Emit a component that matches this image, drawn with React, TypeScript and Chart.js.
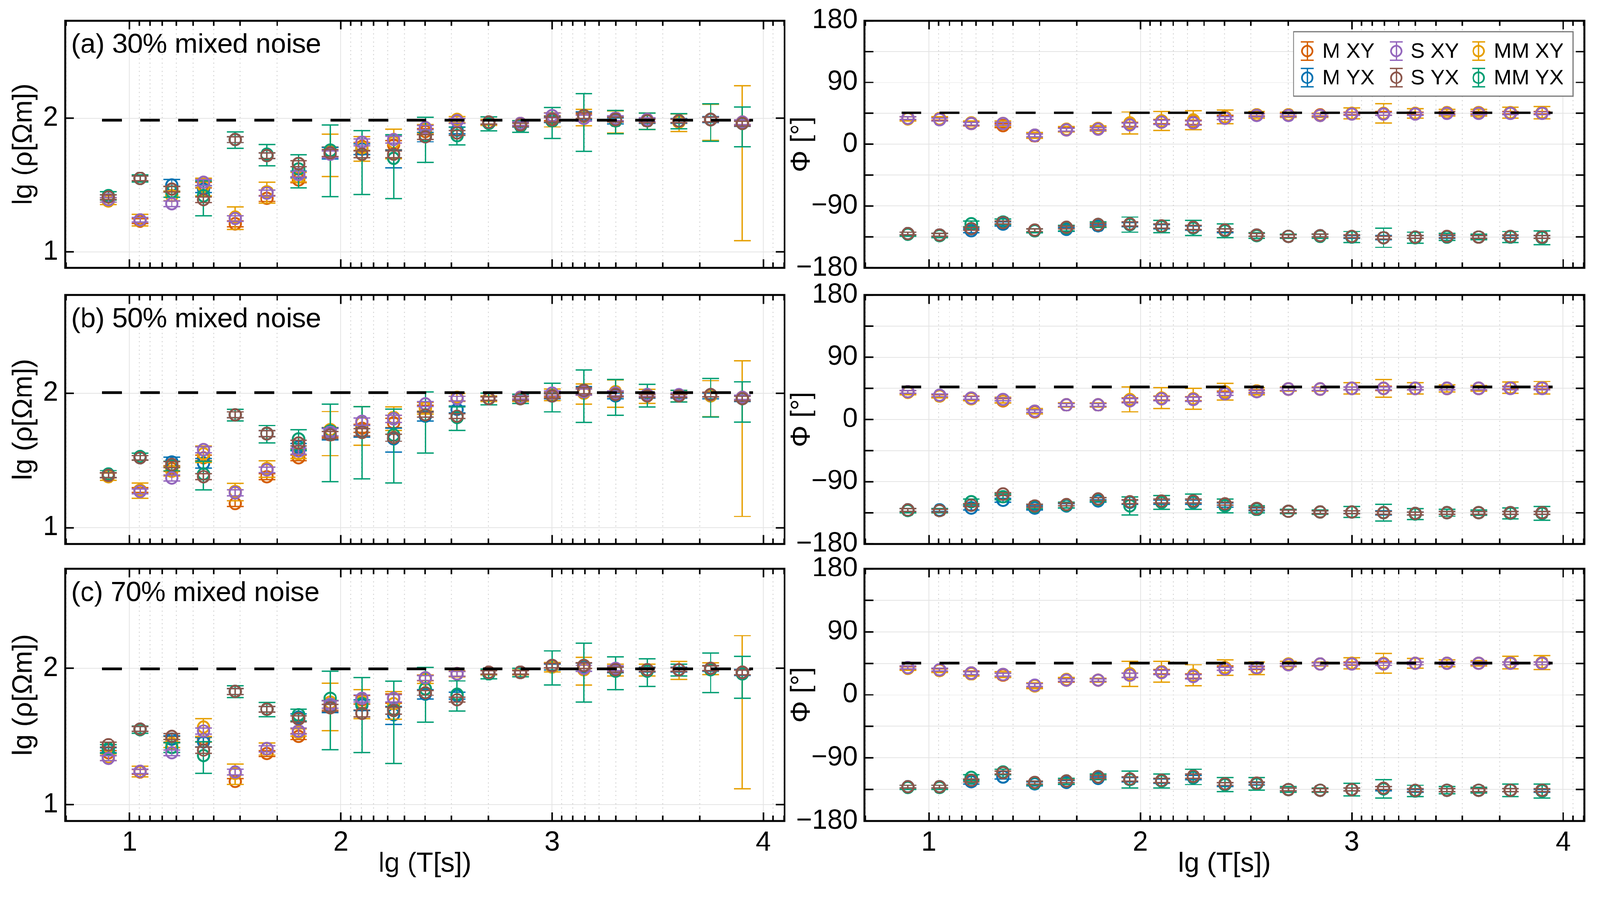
import React, { useEffect, useRef } from "react";
import Chart from "chart.js/auto";

// lg(T) of the 21 sounding periods
const periods = [0.9, 1.05, 1.2, 1.35, 1.5, 1.65, 1.8, 1.95, 2.1, 2.25, 2.4, 2.55, 2.7, 2.85, 3.0, 3.15, 3.3, 3.45, 3.6, 3.75, 3.9];

// series order in every table below: M XY, M YX, S XY, S YX, MM XY, MM YX
const seriesNames = ["M XY", "M YX", "S XY", "S YX", "MM XY", "MM YX"];
const seriesColors = ["#D55E00", "#0072B2", "#9467BD", "#8C564B", "#E69F00", "#009E73"];
const seriesOrder = [5, 4, 1, 0, 3, 2]; // lower = drawn on top

const panelTitles = ["(a) 30% mixed noise", "(b) 50% mixed noise", "(c) 70% mixed noise"];
const refRho = [1.985, 2.005, 1.995];
const refPhi = [45.8, 47, 45.5];
const refX = [0.87, 3.95];

const xTicks = [1, 2, 3, 4];
const rhoTicks = [1, 2];
const phiTicks = [-180, -135, -90, -45, 0, 45, 90, 135, 180];

// small error arrays (relative error of rho, degrees for phase)
const mRhoErr = [0.04, 0.04, 0.05, 0.05, 0.05, 0.05, 0.05, 0.08, 0.07, 0.08, 0.05, 0.04, 0.03, 0.03, 0.04, 0.05, 0.04, 0.03, 0.03, 0.04, 0.04];
const sRhoErr = [0.04, 0.04, 0.05, 0.05, 0.05, 0.05, 0.05, 0.06, 0.06, 0.06, 0.04, 0.04, 0.03, 0.03, 0.04, 0.05, 0.04, 0.03, 0.03, 0.04, 0.04];
const mPhiErr = [2, 2, 3, 3, 3, 3, 2, 3, 3, 3, 3, 2, 2, 2, 2, 3, 2, 2, 2, 2, 2];
const sPhiErr = [2, 2, 2, 2, 2, 2, 2, 3, 3, 3, 2, 2, 2, 2, 2, 2, 2, 2, 2, 2, 2];

// ---- (a) 30% ----
const rhoA = [
  [1.39, 1.23, 1.47, 1.50, 1.21, 1.40, 1.54, 1.75, 1.79, 1.80, 1.90, 1.98, 1.97, 1.96, 2.00, 2.01, 1.99, 1.98, 1.98, 1.99, 1.97],
  [1.41, 1.55, 1.50, 1.47, 1.84, 1.72, 1.58, 1.74, 1.77, 1.70, 1.86, 1.91, 1.97, 1.95, 1.99, 2.02, 1.98, 1.98, 1.98, 1.99, 1.96],
  [1.39, 1.24, 1.36, 1.52, 1.25, 1.44, 1.58, 1.73, 1.82, 1.84, 1.93, 1.98, 1.97, 1.96, 2.02, 2.00, 2.00, 1.99, 1.98, 1.99, 1.97],
  [1.41, 1.55, 1.47, 1.39, 1.84, 1.72, 1.66, 1.74, 1.73, 1.73, 1.86, 1.89, 1.97, 1.95, 1.99, 2.02, 1.99, 1.98, 1.98, 1.99, 1.96],
  [1.38, 1.24, 1.42, 1.49, 1.26, 1.45, 1.56, 1.75, 1.78, 1.82, 1.92, 1.99, 1.97, 1.96, 1.99, 2.01, 1.98, 1.98, 1.97, 1.99, 1.97],
  [1.42, 1.55, 1.45, 1.42, 1.84, 1.73, 1.62, 1.76, 1.73, 1.70, 1.87, 1.87, 1.96, 1.94, 1.98, 2.02, 1.98, 1.98, 1.98, 1.99, 1.96],
];
const rhoErrA = [
  mRhoErr,
  [0.04, 0.04, 0.10, 0.06, 0.05, 0.05, 0.06, 0.10, 0.09, 0.15, 0.08, 0.06, 0.04, 0.04, 0.05, 0.07, 0.05, 0.04, 0.04, 0.05, 0.05],
  sRhoErr,
  sRhoErr,
  [0.06, 0.10, 0.08, 0.15, 0.19, 0.18, 0.08, 0.35, 0.21, 0.25, 0.08, 0.05, 0.05, 0.05, 0.12, 0.14, 0.19, 0.14, 0.15, 0.30, 0.87],
  [0.07, 0.06, 0.09, 0.29, 0.14, 0.18, 0.28, 0.55, 0.50, 0.50, 0.37, 0.15, 0.12, 0.10, 0.26, 0.46, 0.20, 0.14, 0.13, 0.31, 0.33],
];
const phiA = [
  [38, 37, 30, 27, 12, 21, 23, 29, 33, 32, 39, 43, 43, 43, 45, 45, 45, 46, 46, 46, 46],
  [-130, -132, -126, -116, -126, -124, -119, -117, -120, -122, -126, -132, -134, -133, -135, -136, -135, -135, -135, -135, -135],
  [38, 36, 30, 30, 13, 21, 22, 28, 32, 31, 38, 42, 42, 42, 44, 44, 44, 45, 45, 45, 45],
  [-130, -132, -123, -114, -125, -121, -117, -116, -119, -121, -125, -132, -134, -133, -134, -136, -135, -134, -135, -134, -135],
  [37, 37, 31, 30, 13, 22, 23, 31, 34, 35, 40, 43, 43, 42, 45, 45, 45, 46, 46, 46, 46],
  [-131, -133, -116, -113, -126, -122, -117, -117, -120, -122, -126, -133, -134, -134, -135, -136, -136, -135, -135, -135, -136],
];
const phiErrA = [
  mPhiErr,
  mPhiErr,
  sPhiErr,
  sPhiErr,
  [3, 3, 3, 4, 4, 4, 4, 16, 14, 14, 10, 5, 4, 3, 8, 14, 7, 5, 5, 8, 9],
  [3, 3, 4, 4, 3, 4, 4, 11, 9, 11, 10, 4, 3, 3, 8, 14, 8, 5, 4, 8, 10],
];

// ---- (b) 50% ----
const rhoB = [
  [1.39, 1.28, 1.44, 1.52, 1.18, 1.38, 1.52, 1.71, 1.74, 1.78, 1.89, 1.96, 1.96, 1.97, 1.99, 2.01, 1.99, 1.99, 1.98, 1.99, 1.97],
  [1.39, 1.52, 1.49, 1.48, 1.84, 1.70, 1.60, 1.70, 1.72, 1.66, 1.83, 1.88, 1.96, 1.96, 1.98, 2.02, 1.98, 1.98, 1.98, 1.98, 1.96],
  [1.39, 1.27, 1.37, 1.58, 1.26, 1.43, 1.57, 1.71, 1.79, 1.81, 1.92, 1.96, 1.96, 1.97, 2.00, 2.01, 2.00, 1.99, 1.99, 1.99, 1.97],
  [1.39, 1.52, 1.47, 1.38, 1.84, 1.70, 1.63, 1.69, 1.71, 1.67, 1.84, 1.83, 1.96, 1.96, 1.98, 2.02, 1.99, 1.98, 1.98, 1.99, 1.96],
  [1.38, 1.28, 1.42, 1.55, 1.27, 1.44, 1.55, 1.73, 1.78, 1.82, 1.89, 1.97, 1.96, 1.96, 1.99, 2.00, 2.01, 1.98, 1.98, 1.98, 1.97],
  [1.40, 1.53, 1.46, 1.40, 1.84, 1.70, 1.66, 1.72, 1.71, 1.69, 1.84, 1.82, 1.96, 1.96, 1.98, 2.02, 1.99, 1.99, 1.98, 1.99, 1.96],
];
const rhoErrB = [
  mRhoErr,
  [0.04, 0.04, 0.08, 0.08, 0.05, 0.05, 0.06, 0.10, 0.10, 0.20, 0.08, 0.06, 0.04, 0.04, 0.05, 0.07, 0.05, 0.04, 0.04, 0.05, 0.05],
  sRhoErr,
  sRhoErr,
  [0.06, 0.13, 0.08, 0.14, 0.15, 0.14, 0.08, 0.36, 0.32, 0.20, 0.10, 0.07, 0.05, 0.05, 0.10, 0.17, 0.23, 0.12, 0.10, 0.30, 0.87],
  [0.06, 0.06, 0.08, 0.24, 0.10, 0.15, 0.17, 0.58, 0.55, 0.56, 0.48, 0.20, 0.10, 0.08, 0.24, 0.42, 0.30, 0.19, 0.10, 0.32, 0.33],
];
const phiB = [
  [40, 34, 31, 27, 11, 21, 21, 28, 31, 30, 38, 41, 44, 44, 45, 45, 45, 45, 45, 46, 46],
  [-131, -131, -128, -117, -128, -125, -118, -120, -120, -120, -124, -130, -133, -134, -134, -135, -136, -135, -135, -135, -135],
  [40, 35, 31, 29, 12, 21, 21, 27, 30, 29, 37, 40, 44, 44, 45, 45, 45, 45, 45, 45, 45],
  [-131, -132, -124, -108, -125, -123, -115, -119, -118, -118, -122, -129, -133, -134, -134, -135, -136, -135, -135, -135, -135],
  [39, 34, 30, 28, 12, 21, 21, 29, 31, 30, 40, 41, 44, 44, 45, 45, 45, 45, 45, 46, 46],
  [-132, -132, -119, -112, -126, -124, -116, -125, -120, -119, -125, -130, -133, -134, -134, -135, -137, -135, -135, -136, -136],
];
const phiErrB = [
  mPhiErr,
  mPhiErr,
  sPhiErr,
  sPhiErr,
  [3, 3, 3, 4, 4, 3, 3, 18, 15, 15, 12, 5, 3, 3, 8, 13, 8, 5, 4, 8, 9],
  [3, 3, 4, 4, 3, 4, 3, 13, 10, 11, 10, 5, 3, 3, 8, 12, 8, 5, 4, 8, 10],
];

// ---- (c) 70% ----
const rhoC = [
  [1.38, 1.24, 1.48, 1.48, 1.17, 1.375, 1.50, 1.73, 1.77, 1.78, 1.93, 1.96, 1.97, 1.97, 2.02, 2.02, 1.99, 1.99, 1.99, 2.00, 1.97],
  [1.40, 1.555, 1.48, 1.46, 1.83, 1.70, 1.64, 1.72, 1.73, 1.66, 1.81, 1.80, 1.97, 1.97, 2.01, 2.01, 1.99, 1.99, 1.99, 2.00, 1.97],
  [1.34, 1.245, 1.38, 1.54, 1.24, 1.41, 1.54, 1.735, 1.78, 1.78, 1.93, 1.96, 1.97, 1.97, 2.02, 2.00, 2.00, 1.99, 1.99, 2.00, 1.97],
  [1.44, 1.555, 1.50, 1.40, 1.83, 1.70, 1.63, 1.71, 1.67, 1.69, 1.82, 1.77, 1.97, 1.97, 2.02, 2.02, 1.99, 1.99, 1.99, 2.00, 1.97],
  [1.35, 1.245, 1.45, 1.57, 1.23, 1.41, 1.53, 1.75, 1.75, 1.74, 1.92, 1.96, 1.97, 1.97, 2.01, 1.99, 1.99, 1.99, 1.99, 2.00, 1.97],
  [1.41, 1.55, 1.42, 1.36, 1.83, 1.70, 1.66, 1.78, 1.74, 1.70, 1.85, 1.81, 1.96, 1.97, 2.02, 2.02, 1.98, 1.98, 1.99, 1.99, 1.96],
];
const rhoErrC = [
  mRhoErr,
  [0.04, 0.04, 0.06, 0.08, 0.05, 0.05, 0.06, 0.10, 0.09, 0.15, 0.08, 0.06, 0.04, 0.04, 0.05, 0.07, 0.05, 0.04, 0.04, 0.05, 0.05],
  sRhoErr,
  sRhoErr,
  [0.06, 0.09, 0.07, 0.15, 0.17, 0.10, 0.06, 0.38, 0.24, 0.23, 0.07, 0.05, 0.04, 0.04, 0.08, 0.23, 0.10, 0.10, 0.15, 0.10, 0.86],
  [0.07, 0.06, 0.08, 0.26, 0.10, 0.12, 0.10, 0.58, 0.56, 0.60, 0.43, 0.25, 0.08, 0.07, 0.28, 0.46, 0.27, 0.23, 0.10, 0.32, 0.34],
];
const phiC = [
  [38, 35, 31, 28, 13, 21, 21, 28, 33, 27, 38, 38, 43, 44, 45, 45, 45, 45, 45, 45, 45],
  [-131, -131, -124, -117, -127, -125, -119, -121, -123, -118, -128, -127, -135, -136, -135, -134, -137, -136, -136, -136, -137],
  [39, 36, 31, 29, 14, 21, 21, 28, 32, 26, 37, 39, 43, 44, 44, 44, 45, 45, 45, 45, 45],
  [-131, -131, -122, -111, -125, -123, -117, -120, -122, -116, -127, -126, -135, -136, -135, -133, -136, -136, -136, -136, -136],
  [38, 35, 30, 29, 13, 22, 21, 30, 33, 28, 39, 38, 44, 44, 45, 45, 45, 45, 45, 46, 46],
  [-132, -132, -118, -110, -126, -123, -117, -121, -123, -117, -128, -127, -135, -136, -135, -134, -137, -136, -136, -136, -137],
];
const phiErrC = [
  mPhiErr,
  mPhiErr,
  sPhiErr,
  sPhiErr,
  [3, 3, 3, 4, 4, 3, 3, 18, 15, 15, 11, 9, 4, 3, 8, 14, 7, 5, 4, 9, 10],
  [3, 3, 4, 4, 3, 4, 4, 12, 10, 11, 10, 9, 4, 3, 9, 13, 8, 5, 4, 9, 10],
];

const panels = [
  { rho: rhoA, rhoErr: rhoErrA, phi: phiA, phiErr: phiErrA },
  { rho: rhoB, rhoErr: rhoErrB, phi: phiB, phiErr: phiErrB },
  { rho: rhoC, rhoErr: rhoErrC, phi: phiC, phiErr: phiErrC },
];

// ---- layout (pixels) ----
const FONT = "'Liberation Sans', Arial, Helvetica, sans-serif";
const PAGE_W = 4203;
const PAGE_H = 2335;
const rowTop = [43, 764, 1483];
const rowBottom = [715, 1440, 2157];
const X_MIN = 0.695;
const X_MAX = 4.1;
const PAD_TOP = 50; // larger than half a tick label, so Chart.js adds nothing
const PAD_RIGHT = 30;

function minorX(): number[] {
  const out: number[] = [];
  for (let m = 0; m <= 4; m++) {
    for (let k = 2; k <= 9; k++) {
      const v = m + 1 - Math.log10(k);
      if (v > X_MIN && v < X_MAX) out.push(v);
    }
  }
  return out;
}

function framePlugin(yTickVals: number[]) {
  return {
    id: "frameTicks",
    beforeDatasetsDraw(chart: any) {
      const { ctx, chartArea: a, scales } = chart;
      ctx.save();
      ctx.strokeStyle = "#cbcbcb";
      ctx.lineWidth = 2;
      ctx.setLineDash([3, 8]);
      for (const v of minorX()) {
        const px = scales.x.getPixelForValue(v);
        ctx.beginPath();
        ctx.moveTo(px, a.top);
        ctx.lineTo(px, a.bottom);
        ctx.stroke();
      }
      ctx.restore();
    },
    afterDraw(chart: any) {
      const { ctx, chartArea: a, scales } = chart;
      ctx.save();
      ctx.strokeStyle = "#000";
      ctx.lineWidth = 4;
      const vTick = (px: number, len: number) => {
        ctx.beginPath();
        ctx.moveTo(px, a.bottom);
        ctx.lineTo(px, a.bottom - len);
        ctx.moveTo(px, a.top);
        ctx.lineTo(px, a.top + len);
        ctx.stroke();
      };
      for (const v of xTicks) vTick(scales.x.getPixelForValue(v), 23);
      for (const v of minorX()) vTick(scales.x.getPixelForValue(v), 14);
      for (const v of yTickVals) {
        const py = scales.y.getPixelForValue(v);
        ctx.beginPath();
        ctx.moveTo(a.left, py);
        ctx.lineTo(a.left + 23, py);
        ctx.moveTo(a.right, py);
        ctx.lineTo(a.right - 23, py);
        ctx.stroke();
      }
      ctx.lineWidth = 5;
      ctx.strokeRect(a.left, a.top, a.right - a.left, a.bottom - a.top);
      ctx.restore();
    },
  };
}

const errorBarPlugin = {
  id: "errorBars",
  beforeDatasetDraw(chart: any, args: any) {
    const ds = chart.data.datasets[args.index];
    if (!ds.errLow) return;
    const { ctx, chartArea: a, scales } = chart;
    const cap = 22;
    ctx.save();
    ctx.beginPath();
    ctx.rect(a.left, a.top, a.right - a.left, a.bottom - a.top);
    ctx.clip();
    ctx.strokeStyle = ds.borderColor;
    ctx.lineWidth = 3.5;
    args.meta.data.forEach((pt: any, i: number) => {
      const x = pt.x;
      const y1 = scales.y.getPixelForValue(ds.errLow[i]);
      const y2 = scales.y.getPixelForValue(ds.errHigh[i]);
      ctx.beginPath();
      ctx.moveTo(x, y1);
      ctx.lineTo(x, y2);
      ctx.moveTo(x - cap, y1);
      ctx.lineTo(x + cap, y1);
      ctx.moveTo(x - cap, y2);
      ctx.lineTo(x + cap, y2);
      ctx.stroke();
    });
    ctx.restore();
  },
};

function titlePlugin(text: string) {
  return {
    id: "panelTitle",
    afterDraw(chart: any) {
      const { ctx, chartArea: a } = chart;
      ctx.save();
      ctx.font = `72px ${FONT}`;
      ctx.fillStyle = "#000";
      ctx.textBaseline = "alphabetic";
      ctx.textAlign = "left";
      ctx.fillText(text, a.left + 16, a.top + 85);
      ctx.restore();
    },
  };
}

const legendRows = [
  [0, 2, 4],
  [1, 3, 5],
];

const legendPlugin = {
  id: "boxLegend",
  afterDraw(chart: any) {
    const { ctx, chartArea: a } = chart;
    const w = 734;
    const h = 169;
    const left = a.right - 30 - w;
    const top = a.top + 29;
    ctx.save();
    ctx.fillStyle = "#fff";
    ctx.fillRect(left, top, w, h);
    ctx.strokeStyle = "#777";
    ctx.lineWidth = 3;
    ctx.strokeRect(left, top, w, h);
    const colSym = [36, 270, 486];
    const colText = [76, 307, 526];
    const rowY = [51, 121];
    ctx.font = `56px ${FONT}`;
    ctx.textBaseline = "middle";
    ctx.textAlign = "left";
    legendRows.forEach((row, r) => {
      row.forEach((s, c) => {
        const cx = left + colSym[c];
        const cy = top + rowY[r];
        ctx.strokeStyle = seriesColors[s];
        ctx.lineWidth = 3.5;
        ctx.beginPath();
        ctx.moveTo(cx, cy - 24);
        ctx.lineTo(cx, cy + 24);
        ctx.moveTo(cx - 17, cy - 24);
        ctx.lineTo(cx + 17, cy - 24);
        ctx.moveTo(cx - 17, cy + 24);
        ctx.lineTo(cx + 17, cy + 24);
        ctx.stroke();
        ctx.lineWidth = 4.5;
        ctx.beginPath();
        ctx.arc(cx, cy, 14, 0, Math.PI * 2);
        ctx.stroke();
        ctx.fillStyle = "#000";
        ctx.fillText(seriesNames[s], left + colText[c], cy + 2);
      });
    });
    ctx.restore();
  },
};

function phiLabel(v: number): string {
  if (v % 90 !== 0) return "";
  return v < 0 ? "\u2212" + Math.abs(v) : String(v);
}

function geometry(row: number, side: "rho" | "phi") {
  const xH = row === 2 ? 178 : 50;
  const canvasLeft = side === "rho" ? 0 : 2064;
  const yW = side === "rho" ? 171 : 207;
  const areaRight = side === "rho" ? 2061 : 4162;
  const width = areaRight - canvasLeft + PAD_RIGHT;
  const top = rowTop[row] - PAD_TOP;
  const height = rowBottom[row] - rowTop[row] + PAD_TOP + xH;
  return { xH, canvasLeft, yW, width, top, height };
}

function makeConfig(row: number, side: "rho" | "phi"): any {
  const g = geometry(row, side);
  const p = panels[row];
  const values = side === "rho" ? p.rho : p.phi;
  const errs = side === "rho" ? p.rhoErr : p.phiErr;
  const datasets: any[] = seriesNames.map((name, s) => {
    const v = values[s];
    const e = errs[s];
    const errLow = v.map((y, i) => (side === "rho" ? y + Math.log10(1 - e[i]) : y - e[i]));
    const errHigh = v.map((y, i) => (side === "rho" ? y + Math.log10(1 + e[i]) : y + e[i]));
    return {
      type: "scatter",
      label: name,
      data: periods.map((x, i) => ({ x, y: v[i] })),
      errLow,
      errHigh,
      borderColor: seriesColors[s],
      backgroundColor: "rgba(0,0,0,0)",
      pointStyle: "circle",
      pointRadius: 15,
      pointBorderWidth: 5,
      borderWidth: 5,
      order: seriesOrder[s],
    };
  });
  const ref = side === "rho" ? refRho[row] : refPhi[row];
  datasets.push({
    type: "line",
    label: "reference",
    data: refX.map((x) => ({ x, y: ref })),
    borderColor: "#000",
    borderWidth: 7,
    borderDash: [52, 48],
    pointRadius: 0,
    showLine: true,
    fill: false,
    order: -1,
  });

  const showX = row === 2;
  const tickFont = { family: FONT, size: 72 };
  const plugins: any[] = [framePlugin(side === "rho" ? rhoTicks : phiTicks), errorBarPlugin];
  if (side === "rho") plugins.push(titlePlugin(panelTitles[row]));
  if (side === "phi" && row === 0) plugins.push(legendPlugin);

  return {
    type: "scatter",
    data: { datasets },
    plugins,
    options: {
      animation: false,
      responsive: false,
      devicePixelRatio: 1,
      layout: { padding: { left: 0, right: PAD_RIGHT, top: PAD_TOP, bottom: 0 } },
      plugins: { legend: { display: false }, tooltip: { enabled: false }, title: { display: false } },
      scales: {
        x: {
          type: "linear",
          min: X_MIN,
          max: X_MAX,
          afterBuildTicks: (s: any) => {
            s.ticks = xTicks.map((value) => ({ value }));
          },
          afterFit: (s: any) => {
            s.height = g.xH;
          },
          grid: { color: "#e4e4e4", lineWidth: 2, drawTicks: false },
          border: { display: false },
          ticks: {
            display: showX,
            font: tickFont,
            color: "#000",
            padding: 15,
            maxRotation: 0,
            autoSkip: false,
            callback: (v: any) => String(v),
          },
          title: {
            display: showX,
            text: "lg (T[s])",
            font: tickFont,
            color: "#000",
            padding: { top: 0, bottom: 22 },
          },
        },
        y: {
          type: "linear",
          min: side === "rho" ? 0.88 : -180,
          max: side === "rho" ? 2.73 : 180,
          afterBuildTicks: (s: any) => {
            s.ticks = (side === "rho" ? rhoTicks : phiTicks).map((value) => ({ value }));
          },
          afterFit: (s: any) => {
            s.width = g.yW;
          },
          grid: { color: "#e4e4e4", lineWidth: 2, drawTicks: false },
          border: { display: false },
          ticks: {
            font: tickFont,
            color: "#000",
            padding: 18,
            autoSkip: false,
            callback: (v: any) => (side === "rho" ? String(v) : phiLabel(v)),
          },
          title: {
            display: true,
            text: side === "rho" ? "lg (\u03c1[\u03a9m])" : "\u03a6 [\u00b0]",
            font: tickFont,
            color: "#000",
            padding: { top: side === "rho" ? 20 : 0, bottom: 0 },
          },
        },
      },
    },
  };
}

function PanelChart({ row, side }: { row: number; side: "rho" | "phi" }) {
  const ref = useRef<HTMLCanvasElement>(null);
  const g = geometry(row, side);

  useEffect(() => {
    if (!ref.current) return;
    const chart = new Chart(ref.current, makeConfig(row, side));
    return () => chart.destroy();
  }, [row, side]);

  return (
    <canvas
      ref={ref}
      width={g.width}
      height={g.height}
      style={{ position: "absolute", left: g.canvasLeft, top: g.top, width: g.width, height: g.height }}
    />
  );
}

export default function App() {
  // the page may get a narrower viewport than the figure: shrink it uniformly to fit the width
  const scale = window.innerWidth / PAGE_W;
  return (
    <div
      style={{
        position: "absolute",
        left: 0,
        top: 0,
        width: PAGE_W,
        height: PAGE_H,
        background: "#fff",
        overflow: "hidden",
        transform: `scale(${scale})`,
        transformOrigin: "0 0",
      }}
    >
      {[0, 1, 2].map((row) => (
        <React.Fragment key={row}>
          <PanelChart row={row} side="rho" />
          <PanelChart row={row} side="phi" />
        </React.Fragment>
      ))}
    </div>
  );
}
